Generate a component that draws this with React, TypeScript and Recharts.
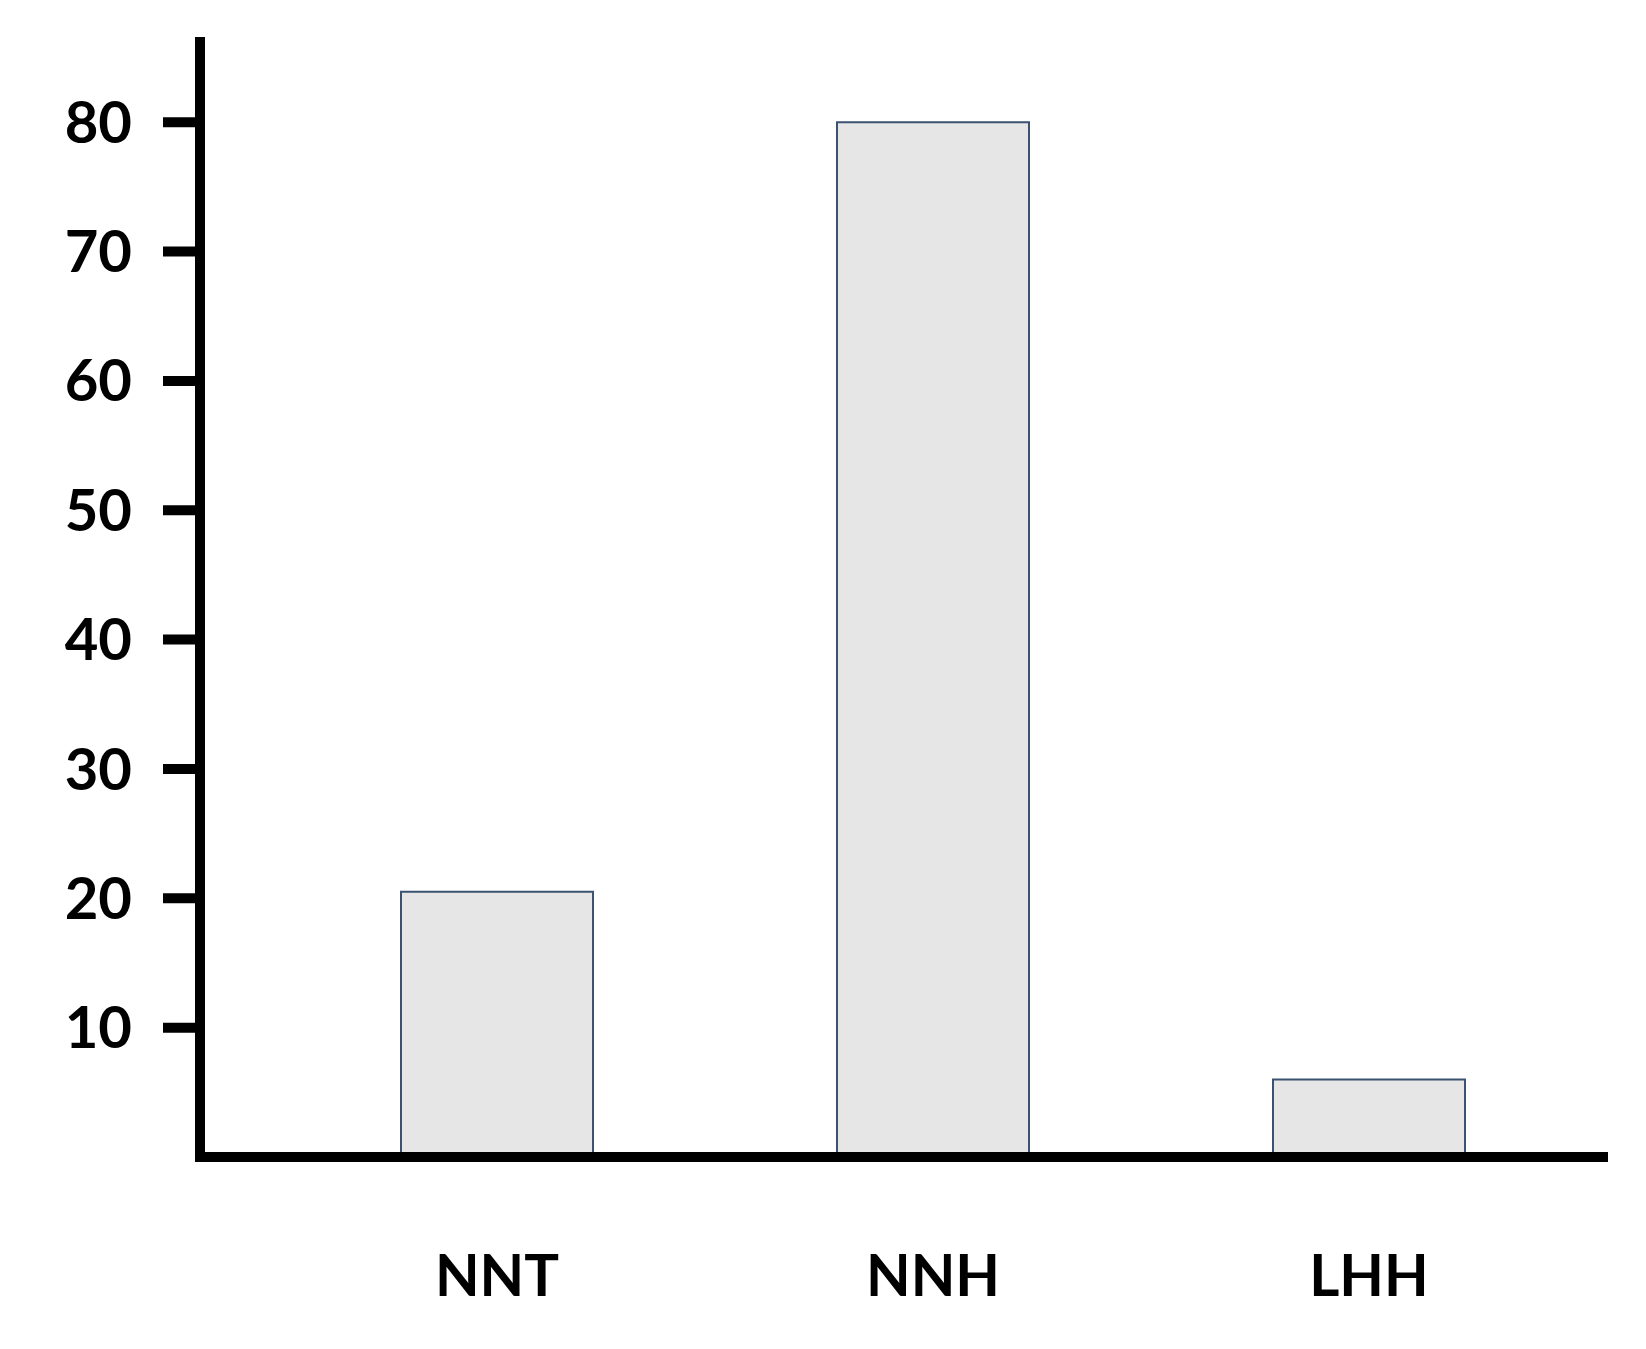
import { Bar, BarChart, XAxis, YAxis } from "recharts";

const categories = ["NNT", "NNH", "LHH"];
const values = [20.5, 80, 6];
const yTicks = [10, 20, 30, 40, 50, 60, 70, 80];

const data = categories.map((name, i) => ({ name, value: values[i] }));

const font = "Lato, 'Open Sans', sans-serif";

export default function App() {
	return (
		<div style={{ position: "absolute", left: 0, top: 0, background: "#fff" }}>
			<BarChart
				width={1646}
				height={1349}
				data={data}
				margin={{ top: 42, right: 43, bottom: 0, left: 0 }}
			>
				<XAxis
					dataKey="name"
					height={192}
					padding={{ left: 79, right: 16 }}
					axisLine={{ stroke: "#000", strokeWidth: 10, strokeLinecap: "square" }}
					tickLine={false}
					tickSize={0}
					tickMargin={98}
					tick={{ fill: "#000", fontSize: 58, fontWeight: 700, fontFamily: font }}
				/>
				<YAxis
					width={200}
					domain={[0, 86.2]}
					ticks={yTicks}
					interval={0}
					axisLine={{ stroke: "#000", strokeWidth: 10, strokeLinecap: "square" }}
					tickLine={{ stroke: "#000", strokeWidth: 10 }}
					tickSize={37}
					tickMargin={31}
					tick={{ fill: "#000", fontSize: 58, fontWeight: 700, fontFamily: font }}
				/>
				<Bar
					dataKey="value"
					barSize={192}
					fill="#e6e6e6"
					stroke="#3b5270"
					strokeWidth={2}
					isAnimationActive={false}
				/>
			</BarChart>
		</div>
	);
}
